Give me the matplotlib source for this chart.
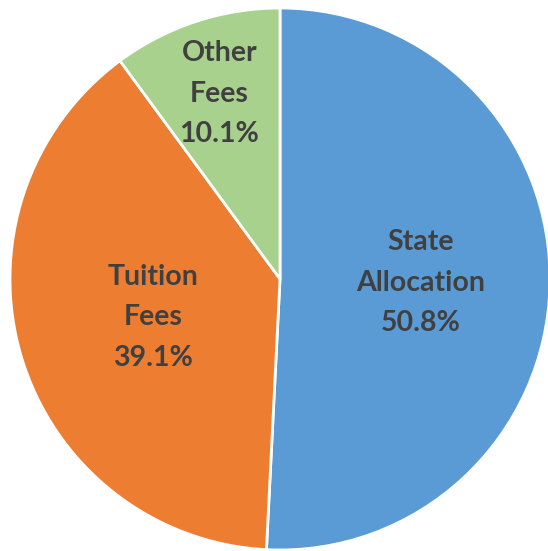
import numpy as np
import matplotlib.pyplot as plt

labels = ["State\nAllocation", "Tuition\nFees", "Other\nFees"]
shares = [50.8, 39.1, 10.1]
colors = ["#5B9BD5", "#ED7D31", "#A9D18E"]
label_r = [0.52, 0.49, 0.72]

fig = plt.figure(figsize=(5.48, 5.51), dpi=100)
ax = fig.add_axes([0, 0, 1, 1])

wedges, _ = ax.pie(shares, colors=colors, startangle=90, counterclock=False,
                   radius=1.0, center=(0, 0),
                   wedgeprops=dict(edgecolor="white", linewidth=2))

for w, lab, v, r in zip(wedges, labels, shares, label_r):
    ang = np.deg2rad((w.theta1 + w.theta2) / 2)
    ax.text(r * np.cos(ang), r * np.sin(ang), f"{lab}\n{v:.1f}%",
            ha="center", va="center", fontsize=20.5, fontweight="bold",
            family="Lato", color="#404040", linespacing=1.68)

# pie spans x 10..550, y 8..550 in pixels
ax.set_xlim(-1.0 - 10 / 270, -1.0 + 538 / 270)
ax.set_ylim(-1.0 - 1 / 271, 1.0 + 8 / 271)
ax.set_aspect("auto")
ax.axis("off")

fig.savefig("out.png", dpi=100)
